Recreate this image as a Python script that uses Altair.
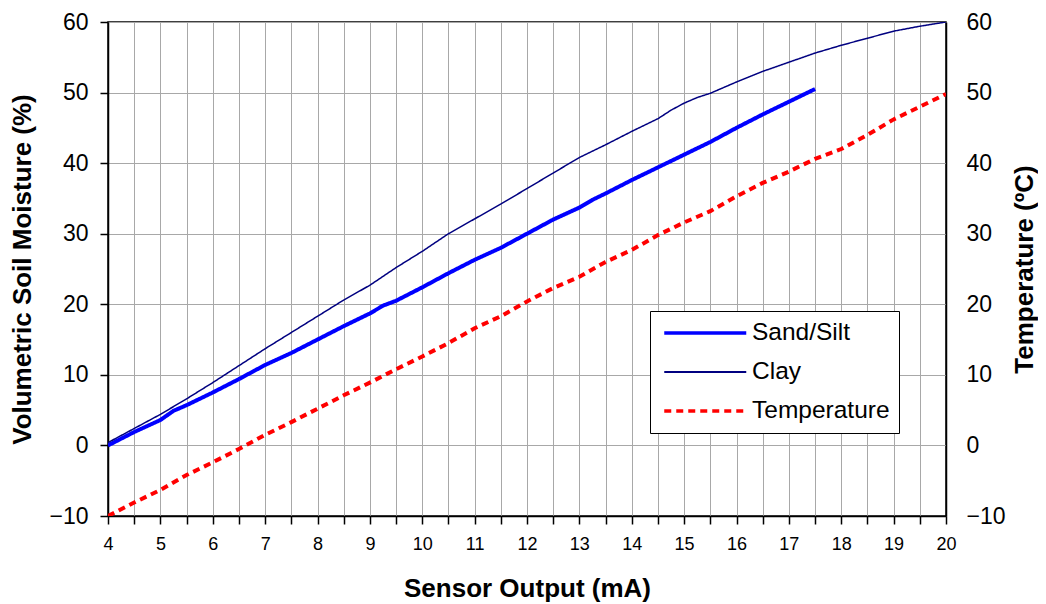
import altair as alt
import pandas as pd

# ---- data ----
sand_x = [4, 4.5, 5, 5.25, 5.5, 6, 6.5, 7, 7.5, 8, 8.5, 9, 9.25, 9.5, 10, 10.5, 11, 11.5,
          12, 12.5, 13, 13.25, 13.5, 14, 14.5, 15, 15.5, 16, 16.5, 17, 17.5]
sand_y = [0, 1.9, 3.6, 4.9, 5.7, 7.5, 9.4, 11.4, 13.1, 15.0, 16.9, 18.7, 19.8, 20.5, 22.4, 24.4,
          26.3, 28.0, 30.0, 32.0, 33.7, 34.8, 35.7, 37.6, 39.4, 41.2, 43.0, 45.0, 46.9, 48.7, 50.5]

clay_x = [4, 4.5, 5, 5.5, 6, 6.5, 7, 7.5, 8, 8.5, 9, 9.5, 10, 10.5, 11, 11.5, 12, 12.5, 13,
          13.5, 14, 14.5, 14.75, 15, 15.25, 15.5, 16, 16.5, 17, 17.5, 18, 18.5, 19, 19.5, 20]
clay_y = [0.4, 2.4, 4.4, 6.6, 8.9, 11.3, 13.7, 16.0, 18.3, 20.6, 22.7, 25.2, 27.5, 30.0, 32.1,
          34.2, 36.4, 38.6, 40.8, 42.6, 44.5, 46.3, 47.5, 48.5, 49.3, 49.9, 51.5, 53.0, 54.3,
          55.6, 56.7, 57.7, 58.7, 59.4, 60.0]

temp_x = [4, 4.5, 5, 5.5, 6, 6.5, 7, 7.5, 8, 8.5, 9, 9.5, 10, 10.5, 11, 11.5, 12, 12.5, 13,
          13.5, 14, 14.5, 15, 15.5, 16, 16.5, 17, 17.5, 18, 18.5, 19, 19.5, 20]
temp_y = [-10, -8.1, -6.3, -4.2, -2.4, -0.5, 1.5, 3.3, 5.2, 7.1, 8.9, 10.8, 12.6, 14.5, 16.6,
          18.3, 20.4, 22.3, 23.9, 26.0, 27.7, 29.8, 31.6, 33.2, 35.3, 37.2, 38.8, 40.6, 42.0,
          44.0, 46.2, 48.0, 49.8]

series_names = ["Sand/Silt", "Clay", "Temperature"]
series_colors = ["#0000FF", "#000080", "#FF0000"]
series_widths = [4, 1.5, 4]
series_dash = [[1, 0], [1, 0], [7, 5]]

x_tick_values = [4 + 0.5 * i for i in range(33)]
y_tick_values = [-10, 0, 10, 20, 30, 40, 50, 60]

# ---- tables ----
moist = pd.concat([
    pd.DataFrame({"x": sand_x, "y": sand_y, "series": series_names[0], "w": series_widths[0]}),
    pd.DataFrame({"x": clay_x, "y": clay_y, "series": series_names[1], "w": series_widths[1]}),
])
temp = pd.DataFrame({"x": temp_x, "y": temp_y, "series": series_names[2], "w": series_widths[2]})

FONT = "Liberation Sans"

legend = alt.Legend(
    title=None, orient="none", legendX=542, legendY=289,
    symbolType="stroke", symbolSize=82 * 82, clipHeight=26, rowPadding=13,
    padding=9, symbolOffset=34, labelOffset=34.5,
    labelFont=FONT, labelFontSize=24.5, labelColor="black",
    strokeColor="black", fillColor="white", cornerRadius=0,
    symbolStrokeWidth={"expr": "datum.value === 'Clay' ? 2 : 3.5"},
)

color = alt.Color("series:N", scale=alt.Scale(domain=series_names, range=series_colors), legend=legend)
dash = alt.StrokeDash("series:N", scale=alt.Scale(domain=series_names, range=series_dash), legend=legend)
width = alt.StrokeWidth("w:Q", scale=None, legend=None)

xenc = alt.X(
    "x:Q",
    scale=alt.Scale(domain=[4, 20], nice=False, zero=False),
    axis=alt.Axis(
        values=x_tick_values, title="Sensor Output (mA)",
        labelExpr="datum.value % 1 === 0 ? format(datum.value, 'd') : ''",
        labelOverlap=False, labelFlush=False, labelFontSize=18, labelPadding=11,
        tickSize=8, titlePadding=22, grid=True,
    ),
)

left = alt.Chart(moist).mark_line(clip=True).encode(
    x=xenc,
    y=alt.Y(
        "y:Q",
        scale=alt.Scale(domain=[-10, 60], nice=False, zero=False),
        axis=alt.Axis(
            values=y_tick_values, title="Volumetric Soil Moisture (%)", orient="left",
            labelFontSize=23, tickSize=8, labelPadding=12, titlePadding=13, grid=True,
            format="d",
        ),
    ),
    color=color, strokeDash=dash, strokeWidth=width, detail="series:N",
)

right = alt.Chart(temp).mark_line(clip=True).encode(
    x=xenc,
    y=alt.Y(
        "y:Q",
        scale=alt.Scale(domain=[-10, 60], nice=False, zero=False),
        axis=alt.Axis(
            values=y_tick_values, title="Temperature (ºC)", orient="right",
            labelFontSize=23, ticks=False, labelPadding=20, titlePadding=32,
            titleAngle=270, grid=False, format="d",
        ),
    ),
    color=color, strokeDash=dash, strokeWidth=width,
)

chart = alt.layer(left, right).resolve_scale(y="independent").properties(
    width=838, height=494,
    autosize=alt.AutoSizeParams(type="none"),
    padding={"left": 100, "top": 14, "right": 92, "bottom": 86},
    background="white",
).configure(font=FONT).configure_view(
    stroke="black", strokeWidth=1.5
).configure_axis(
    domainColor="black", domainWidth=1.5, tickColor="black", tickWidth=1.5,
    gridColor="#a8a8a8", gridWidth=1, labelColor="black", titleColor="black",
    labelFont=FONT, titleFont=FONT, titleFontSize=26, titleFontWeight="bold",
)

chart.save("out.html", embed_options={"renderer": "svg", "actions": False})
